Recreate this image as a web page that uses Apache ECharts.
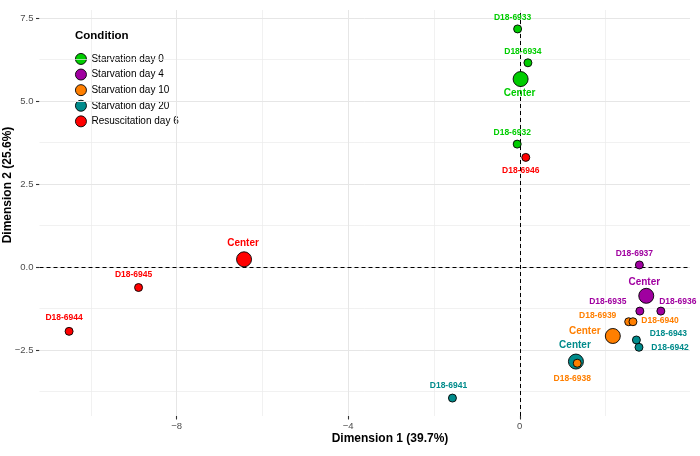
<!DOCTYPE html>
<html>
<head>
<meta charset="utf-8">
<script src="https://cdn.jsdelivr.net/npm/echarts@6/dist/echarts.min.js"></script>
<style>
html,body{margin:0;padding:0;background:#fff;}
#chart{width:700px;height:456px;}
</style>
</head>
<body>
<div id="chart"></div>
<script>
// ---- data ----
const conditions = ["Starvation day 0", "Starvation day 4", "Starvation day 10", "Starvation day 20", "Resuscitation day 6"];

const day0Names = ["D18-6933", "D18-6934", "D18-6932", "Center"];
const day0X = [-0.05, 0.19, -0.06, 0.02];
const day0Y = [7.17, 6.15, 3.70, 5.66];

const day4Names = ["D18-6937", "D18-6935", "D18-6936", "Center"];
const day4X = [2.79, 2.80, 3.29, 2.95];
const day4Y = [0.06, -1.33, -1.33, -0.87];

const day10Names = ["D18-6939", "D18-6940", "D18-6938", "Center"];
const day10X = [2.54, 2.64, 1.34, 2.17];
const day10Y = [-1.65, -1.65, -2.90, -2.08];

const day20Names = ["D18-6943", "D18-6942", "D18-6941", "Center"];
const day20X = [2.72, 2.78, -1.57, 1.31];
const day20Y = [-2.20, -2.42, -3.95, -2.85];

const resusNames = ["D18-6946", "D18-6945", "D18-6944", "Center"];
const resusX = [0.14, -8.89, -10.51, -6.43];
const resusY = [3.30, -0.62, -1.94, 0.23];

const xTicks = [-8, -4, 0];
const xMinorTicks = [-10, -6, -2, 2];
const yTicks = [-2.5, 0, 2.5, 5, 7.5];
const yMinorTicks = [-3.75, -1.25, 1.25, 3.75, 6.25];

// ---- styles ----
const colors = {
  "Starvation day 0": "#00CD00",
  "Starvation day 4": "#A000A0",
  "Starvation day 10": "#FF7F00",
  "Starvation day 20": "#008B8B",
  "Resuscitation day 6": "#FF0000"
};
// label offsets in pixels, keyed by condition then sample name
const labelOffsets = {
  "Starvation day 0": {"D18-6933": [-5, -11], "D18-6934": [-5, -11], "D18-6932": [-5, -11], "Center": [-1, 14]},
  "Starvation day 4": {"D18-6937": [-5, -11], "D18-6935": [-32, -9], "D18-6936": [17, -9], "Center": [-2, -14]},
  "Starvation day 10": {"D18-6939": [-31, -6], "D18-6940": [27, -1], "D18-6938": [-5, 15], "Center": [-28, -5]},
  "Starvation day 20": {"D18-6943": [32, -6], "D18-6942": [31, 0], "D18-6941": [-4, -12], "Center": [-1, -16]},
  "Resuscitation day 6": {"D18-6946": [-5, 13], "D18-6945": [-5, -13], "D18-6944": [-5, -14], "Center": [-1, -16]}
};

const groups = {
  "Starvation day 0": [day0Names, day0X, day0Y],
  "Starvation day 4": [day4Names, day4X, day4Y],
  "Starvation day 10": [day10Names, day10X, day10Y],
  "Starvation day 20": [day20Names, day20X, day20Y],
  "Resuscitation day 6": [resusNames, resusX, resusY]
};

const FONT = "'Liberation Sans', Arial, Helvetica, sans-serif";
const minus = v => String(v).replace('-', '\u2212');

function buildSeries(cond) {
  const [names, xs, ys] = groups[cond];
  const col = colors[cond];
  const data = names.map((n, i) => {
    const isCenter = n === "Center";
    return {
      value: [xs[i], ys[i]],
      name: n,
      symbolSize: isCenter ? 15 : 8,
      label: {
        show: true,
        position: 'inside',
        offset: labelOffsets[cond][n],
        formatter: n,
        color: col,
        fontFamily: FONT,
        fontWeight: 'bold',
        fontSize: isCenter ? 10 : 8.5
      }
    };
  });
  return {
    name: cond,
    type: 'scatter',
    data: data,
    itemStyle: { color: col, borderColor: '#000', borderWidth: 0.9, opacity: 1 },
    emphasis: { disabled: true },
    z: 5
  };
}

const seriesOrder = ["Resuscitation day 6", "Starvation day 20", "Starvation day 10", "Starvation day 4", "Starvation day 0"];

const gridLineSeries = {
  name: 'grid',
  type: 'scatter',
  data: [],
  silent: true,
  z: 1,
  markLine: {
    silent: true,
    symbol: 'none',
    animation: false,
    label: { show: false },
    data: [
      ...xMinorTicks.map(v => ({ xAxis: v, lineStyle: { color: '#EBEBEB', width: 0.7, type: 'solid' } })),
      ...yMinorTicks.map(v => ({ yAxis: v, lineStyle: { color: '#EBEBEB', width: 0.7, type: 'solid' } })),
      ...xTicks.map(v => ({ xAxis: v, lineStyle: { color: '#E6E6E6', width: 1, type: 'solid' } })),
      ...yTicks.map(v => ({ yAxis: v, lineStyle: { color: '#E6E6E6', width: 1, type: 'solid' } }))
    ]
  }
};

const refLineSeries = {
  name: 'ref',
  type: 'scatter',
  data: [],
  silent: true,
  z: 10,
  markLine: {
    silent: true,
    symbol: 'none',
    animation: false,
    label: { show: false },
    lineStyle: { color: '#000', width: 1, type: [4, 3] },
    data: [{ xAxis: 0 }, { yAxis: 0 }]
  }
};

const chart = echarts.init(document.getElementById('chart'), null, { renderer: 'canvas' });
chart.setOption({
  animation: false,
  backgroundColor: '#fff',
  textStyle: { fontFamily: FONT },
  grid: { left: 39.5, right: 10, top: 10, bottom: 40, containLabel: false },
  title: {
    text: 'Condition',
    left: 75, top: 30, padding: 0,
    textStyle: { fontFamily: FONT, fontWeight: 'bold', fontSize: 11.5, color: '#000' }
  },
  legend: {
    data: conditions,
    orient: 'vertical',
    left: 75, top: 53, padding: 0,
    itemWidth: 11, itemHeight: 11, itemGap: 3.7,
    icon: 'circle',
    selectedMode: false,
    textStyle: { fontFamily: FONT, fontSize: 10, color: '#000' },
    itemStyle: { borderColor: '#000', borderWidth: 0.9 }
  },
  xAxis: {
    type: 'value',
    min: -11.2, max: 3.97,
    axisLine: { show: true, onZero: false, lineStyle: { color: 'rgba(0,0,0,0)' } },
    splitLine: { show: false },
    axisTick: { show: true, customValues: xTicks, length: 3.5, lineStyle: { color: '#333', width: 1.1 } },
    axisLabel: { customValues: xTicks, margin: 5, color: '#4D4D4D', fontSize: 9.5, fontFamily: FONT, formatter: v => minus(v) }
  },
  yAxis: {
    type: 'value',
    min: -4.49, max: 7.74,
    axisLine: { show: true, onZero: false, lineStyle: { color: 'rgba(0,0,0,0)' } },
    splitLine: { show: false },
    axisTick: { show: true, customValues: yTicks, length: 3.5, lineStyle: { color: '#333', width: 1.1 } },
    axisLabel: { customValues: yTicks, margin: 6, color: '#4D4D4D', fontSize: 9.5, fontFamily: FONT, formatter: v => minus(v.toFixed(1)) }
  },
  graphic: [
    {
      type: 'text', x: 390, y: 439,
      style: { text: 'Dimension 1 (39.7%)', fontFamily: FONT, fontWeight: 'bold', fontSize: 12, fill: '#000', align: 'center', verticalAlign: 'middle' }
    },
    {
      type: 'text', x: 8, y: 185, rotation: Math.PI / 2,
      style: { text: 'Dimension 2 (25.6%)', fontFamily: FONT, fontWeight: 'bold', fontSize: 12, fill: '#000', align: 'center', verticalAlign: 'middle' }
    }
  ],
  series: [gridLineSeries, refLineSeries, ...seriesOrder.map(buildSeries)]
});
</script>
</body>
</html>
